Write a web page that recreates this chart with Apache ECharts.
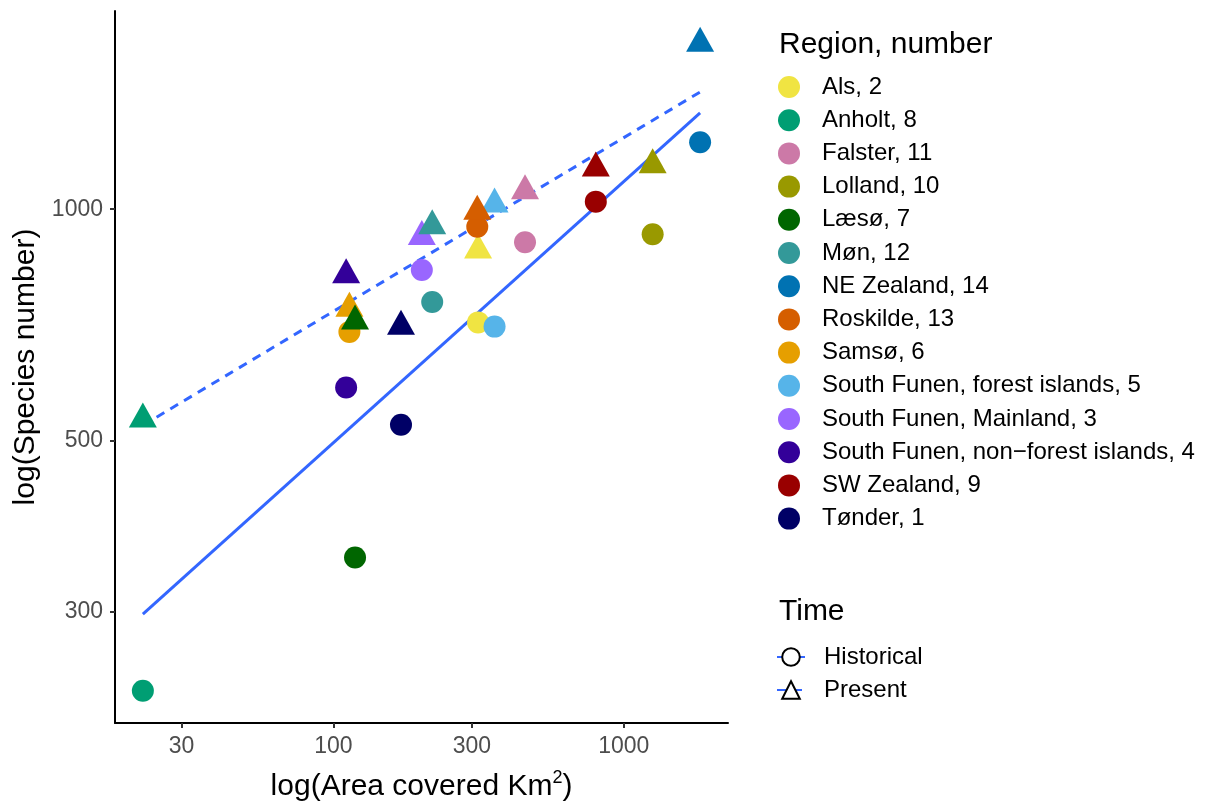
<!DOCTYPE html>
<html>
<head>
<meta charset="utf-8">
<script src="https://cdn.jsdelivr.net/npm/echarts@6/dist/echarts.min.js"></script>
<style>
  html, body { margin: 0; padding: 0; background: #fff; }
  #chart { width: 1216px; height: 805px; }
</style>
</head>
<body>
<div id="chart"></div>
<script>
// regions in legend order
const regions = [
  'Als, 2', 'Anholt, 8', 'Falster, 11', 'Lolland, 10', 'Læsø, 7', 'Møn, 12',
  'NE Zealand, 14', 'Roskilde, 13', 'Samsø, 6', 'South Funen, forest islands, 5',
  'South Funen, Mainland, 3', 'South Funen, non\u2212forest islands, 4', 'SW Zealand, 9', 'Tønder, 1'
]
const regionNumber = [2, 8, 11, 10, 7, 12, 14, 13, 6, 5, 3, 4, 9, 1]
const regionColors = [
  '#F0E442', '#009E73', '#CC79A7', '#999900', '#006600', '#339999',
  '#0072B2', '#D55E00', '#E69F00', '#56B4E9', '#9966FF', '#330099', '#990000', '#000066'
]
// area covered (km2)
const area = [315, 22.1, 457, 1257, 118.8, 219, 1831, 313, 113.6, 359, 201.7, 110.7, 801, 171]
// species numbers
const speciesHistorical = [713, 237, 906, 928, 353, 758, 1222, 949, 693, 704, 834, 587, 1023, 525]
const speciesPresent = [885, 534, 1057, 1142, 716, 952, 1643, 994, 744, 1016, 922, 822, 1131, 705]
// fitted lines (log-log), read at the ends
const fitArea = [22.1, 1831]
const fitHistorical = [298, 1334]
const fitPresent = [524, 1420]
const timeNames = ['Historical', 'Present']

const xTicks = [30, 100, 300, 1000]
const yTicks = [300, 500, 1000]

const FONT = 'Liberation Sans'
const chart = echarts.init(document.getElementById('chart'))

const order = regions.map((_, i) => i).sort((a, b) => regionNumber[a] - regionNumber[b])

const pointSeries = order.map((i) => ({
  type: 'scatter',
  name: regions[i],
  z: 3,
  itemStyle: { color: regionColors[i], opacity: 1 },
  data: [
    { value: [area[i], speciesHistorical[i]], symbol: 'circle', symbolSize: 22 },
    { value: [area[i], speciesPresent[i]], symbol: 'triangle', symbolSize: [28, 25], symbolOffset: [0, -4] }
  ]
}))

const lineSeries = [
  {
    type: 'line',
    name: timeNames[0],
    z: 2,
    showSymbol: false,
    symbol: 'emptyCircle',
    symbolSize: 16,
    itemStyle: { color: '#000', borderWidth: 2 },
    lineStyle: { color: '#3366FF', width: 3 },
    data: fitArea.map((x, k) => [x, fitHistorical[k]])
  },
  {
    type: 'line',
    name: timeNames[1],
    z: 2,
    showSymbol: false,
    symbol: 'emptyTriangle',
    symbolSize: 18,
    itemStyle: { color: '#000', borderWidth: 2 },
    lineStyle: { color: '#3366FF', width: 3, type: [9, 7] },
    data: fitArea.map((x, k) => [x, fitPresent[k]])
  }
]

chart.setOption({
  animation: false,
  textStyle: { fontFamily: FONT },
  title: [
    { text: 'Region, number', left: 779, top: 30, padding: 0,
      textStyle: { fontSize: 30, fontWeight: 'normal', color: '#000', fontFamily: FONT } },
    { text: 'Time', left: 779, top: 597, padding: 0,
      textStyle: { fontSize: 30, fontWeight: 'normal', color: '#000', fontFamily: FONT } }
  ],
  legend: [
    {
      orient: 'vertical',
      left: 778,
      top: 75,
      padding: 0,
      itemWidth: 24,
      itemHeight: 22,
      itemGap: 9.2,
      icon: 'circle',
      selectedMode: false,
      data: regions,
      textStyle: { fontSize: 24, lineHeight: 22, color: '#000', fontFamily: FONT, padding: [0, 0, 0, 16] }
    },
    {
      orient: 'vertical',
      left: 776,
      top: 645,
      padding: 0,
      itemWidth: 28,
      itemHeight: 22,
      itemGap: 9,
      selectedMode: false,
      data: timeNames,
      textStyle: { fontSize: 24, lineHeight: 22, color: '#000', fontFamily: FONT, padding: [0, 0, 0, 14] }
    }
  ],
  grid: { left: 115, top: 11, width: 613, height: 712, containLabel: false, outerBoundsMode: 'none' },
  xAxis: {
    type: 'log',
    min: 17.72,
    max: 2284,
    name: 'log(Area covered Km{sup|2})',
    nameLocation: 'middle',
    nameGap: 46,
    nameTextStyle: {
      fontSize: 30, color: '#000', fontFamily: FONT,
      rich: { sup: { fontSize: 18, color: '#000', fontFamily: FONT, padding: [0, 0, 18, 0] } }
    },
    axisLine: { show: true, onZero: false, lineStyle: { color: '#000', width: 2 } },
    axisTick: { show: true, length: 5, customValues: xTicks, lineStyle: { color: '#333', width: 2 } },
    axisLabel: { customValues: xTicks, margin: 12, fontSize: 23, color: '#4D4D4D', fontFamily: FONT,
      formatter: (v) => String(Math.round(v)) },
    splitLine: { show: false },
    minorTick: { show: false }
  },
  yAxis: {
    type: 'log',
    min: 215.2,
    max: 1809,
    name: 'log(Species number)',
    nameLocation: 'middle',
    nameRotate: 90,
    nameGap: 58,
    nameTextStyle: { fontSize: 30, color: '#000', fontFamily: FONT },
    axisLine: { show: true, onZero: false, lineStyle: { color: '#000', width: 2 } },
    axisTick: { show: true, length: 5, customValues: yTicks, lineStyle: { color: '#333', width: 2 } },
    axisLabel: { customValues: yTicks, margin: 12, fontSize: 23, color: '#4D4D4D', fontFamily: FONT,
      formatter: (v) => String(Math.round(v)) },
    splitLine: { show: false },
    minorTick: { show: false }
  },
  series: [...lineSeries, ...pointSeries]
})
</script>
</body>
</html>
